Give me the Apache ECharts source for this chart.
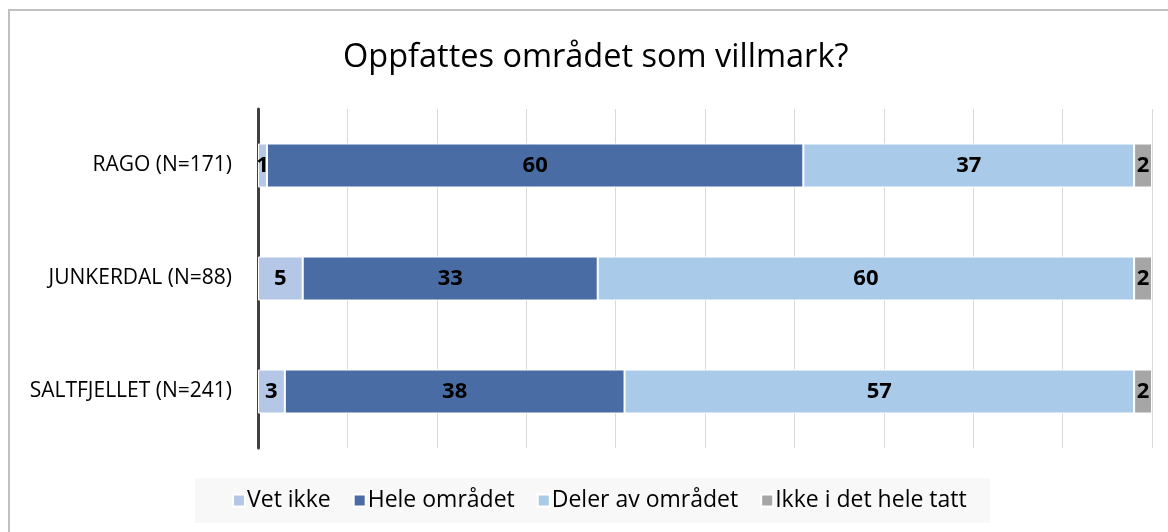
<!DOCTYPE html>
<html>
<head>
<meta charset="utf-8">
<script src="https://cdn.jsdelivr.net/npm/echarts@6/dist/echarts.min.js"></script>
<style>
  html, body { margin: 0; padding: 0; background: #ffffff; }
  #chart { width: 1168px; height: 532px; }
</style>
</head>
<body>
<div id="chart"></div>
<script>
// Survey areas (top to bottom) and answer shares in percent
const categories = ['RAGO (N=171)', 'JUNKERDAL (N=88)', 'SALTFJELLET (N=241)'];
const seriesNames = ['Vet ikke', 'Hele området', 'Deler av området', 'Ikke i det hele tatt'];
const vetIkke = [1, 5, 3];
const heleOmradet = [60, 33, 38];
const delerAvOmradet = [37, 60, 57];
const ikkeIDetHeleTatt = [2, 2, 2];
const title = 'Oppfattes området som villmark?';

const colors = ['#b4c7e7', '#4a6ca4', '#a9cbe9', '#a6a6a6'];
const values = [vetIkke, heleOmradet, delerAvOmradet, ikkeIDetHeleTatt];
const fontFamily = '"Open Sans", Lato, sans-serif';

const chart = echarts.init(document.getElementById('chart'), null, { renderer: 'canvas' });

chart.setOption({
  backgroundColor: '#ffffff',
  animation: false,
  title: {
    text: title,
    left: 338,
    top: 36,
    textStyle: { fontFamily, fontSize: 32.5, fontWeight: 'normal', color: '#000000' }
  },
  graphic: [{
    type: 'rect',
    shape: { x: 9, y: 10, width: 1200, height: 600 },
    style: { fill: 'none', stroke: '#c0c0c0', lineWidth: 2 },
    silent: true,
    z: 100
  }, {
    type: 'rect',
    shape: { x: 195, y: 478, width: 795, height: 45 },
    style: { fill: '#f8f8f8' },
    silent: true,
    z: -1
  }],
  legend: {
    data: seriesNames,
    top: 484,
    left: 227,
    itemWidth: 12,
    itemHeight: 12,
    itemGap: 22,
    icon: 'rect',
    textStyle: { fontFamily, fontSize: 23, color: '#000000', padding: [0, 0, 0, -3] }
  },
  grid: { left: 258, right: 16, top: 109, bottom: 84, containLabel: false },
  xAxis: {
    type: 'value',
    min: 0,
    max: 100,
    interval: 10,
    axisLabel: { show: false },
    axisLine: { show: false },
    axisTick: { show: false },
    splitLine: { show: true, lineStyle: { color: '#d9d9d9', width: 1 } }
  },
  yAxis: {
    type: 'category',
    data: categories,
    inverse: true,
    axisLine: { show: true, lineStyle: { color: '#404040', width: 3 } },
    axisTick: { show: false },
    axisLabel: { fontFamily, fontSize: 21, color: '#000000', margin: 26 }
  },
  series: seriesNames.map((name, i) => ({
    name,
    type: 'bar',
    stack: 'total',
    barWidth: 44,
    data: values[i],
    itemStyle: { color: colors[i], borderColor: '#ffffff', borderWidth: 1 },
    label: {
      show: true,
      position: 'inside',
      fontFamily,
      fontSize: 22,
      fontWeight: 'bold',
      color: '#000000'
    }
  }))
});
</script>
</body>
</html>
